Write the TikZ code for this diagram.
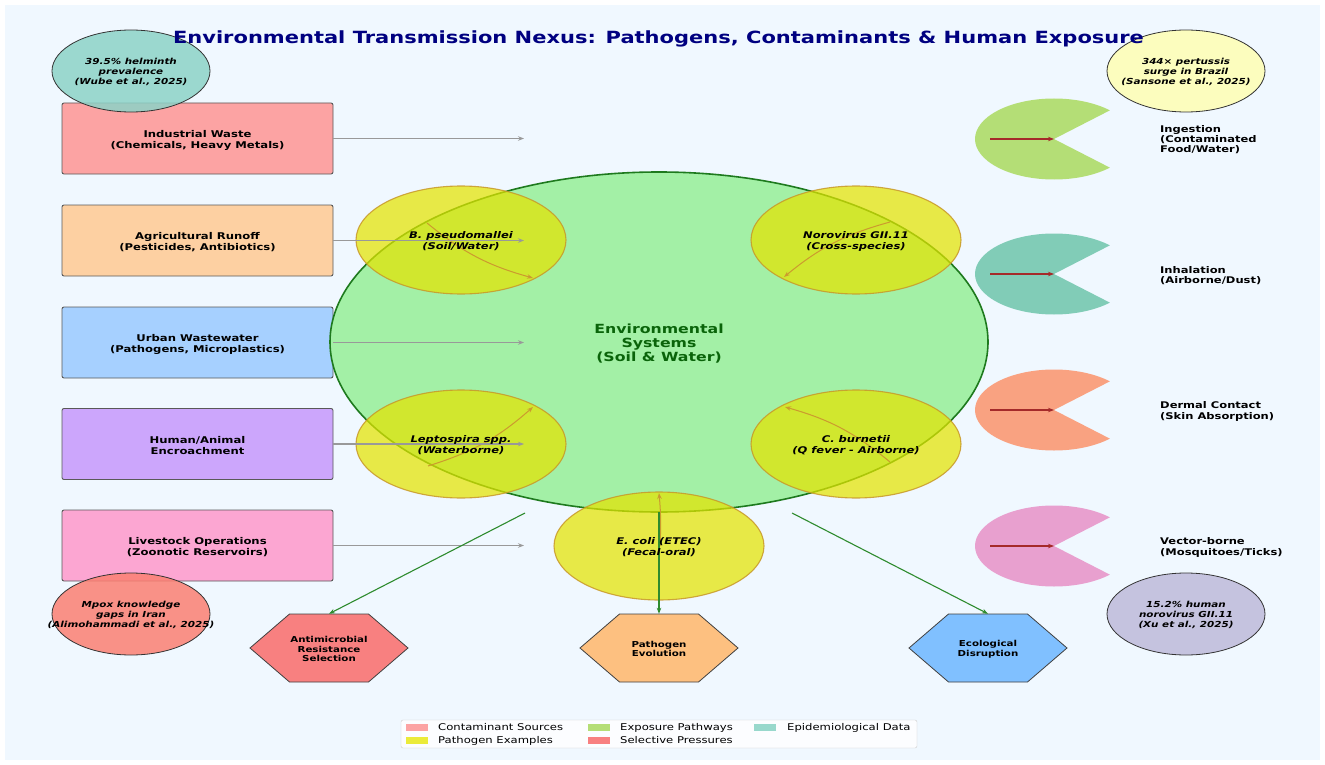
\documentclass[tikz,border=0pt]{standalone}
\usepackage{fontspec}
\setmainfont{DejaVu Sans}[FakeStretch=1.25]
\usetikzlibrary{shapes.geometric,arrows.meta}
\definecolor{bgc}{HTML}{F0F8FF}
\definecolor{cA}{HTML}{FCA3A3}
\definecolor{cB}{HTML}{FDD0A2}
\definecolor{cC}{HTML}{A6D0FF}
\definecolor{cD}{HTML}{CCA6FC}
\definecolor{cE}{HTML}{FCA6D2}
\definecolor{envfill}{HTML}{A3F0A6}
\definecolor{envedge}{HTML}{1E7A1E}
\definecolor{envtext}{HTML}{0A640A}
\definecolor{ybase}{HTML}{E4E400}
\definecolor{gedge}{HTML}{C8982A}
\definecolor{curvc}{HTML}{CC9A2E}
\definecolor{pA}{HTML}{A6D854}
\definecolor{pB}{HTML}{66C2A5}
\definecolor{pC}{HTML}{FC8D62}
\definecolor{pD}{HTML}{E78AC3}
\definecolor{eA}{HTML}{8DD3C7}
\definecolor{eB}{HTML}{FFFFB3}
\definecolor{eC}{HTML}{FB8072}
\definecolor{eD}{HTML}{BEBADA}
\definecolor{hA}{HTML}{F88080}
\definecolor{hB}{HTML}{FDC080}
\definecolor{hC}{HTML}{80C0FF}
\definecolor{garr}{HTML}{2E8B2E}
\definecolor{rarr}{HTML}{A52A2A}
\definecolor{navyc}{HTML}{000080}
\definecolor{lgA}{HTML}{FCA3A3}
\definecolor{lgB}{HTML}{B5DE76}
\definecolor{lgC}{HTML}{98D8CC}
\definecolor{lgD}{HTML}{EBEB3A}
\definecolor{lgE}{HTML}{F88080}
\newcommand{\fsz}[2]{\fontsize{#1}{#2}\selectfont}
\newcommand{\hexpath}[2]{\filldraw[fill=#2, draw=black!75, line width=0.8pt] ([shift={(-79,0)}]#1) -- ([shift={(-39.5,-34)}]#1) -- ([shift={(39.5,-34)}]#1) -- ([shift={(79,0)}]#1) -- ([shift={(39.5,34)}]#1) -- ([shift={(-39.5,34)}]#1) -- cycle;}
\newcommand{\pacman}[2]{\fill[#2, fill opacity=0.8] (#1) -- ++(45:79 and 40.5) arc[start angle=45, end angle=315, x radius=79, y radius=40.5] -- cycle;}
\begin{document}
\begin{tikzpicture}[x=1pt,y=-1pt,
  srcbox/.style={draw=black!65, line width=0.9pt, rounded corners=2pt, minimum width=271pt, minimum height=71pt, align=center, font=\bfseries\fsz{9.3}{11}, inner sep=0pt},
  patho/.style={ellipse, draw=gedge, draw opacity=0.85, line width=1.1pt, fill=ybase, fill opacity=0.72, minimum width=210pt, minimum height=108pt, inner sep=0pt},
  pathtext/.style={inner sep=0pt, align=center, font=\bfseries\itshape\fsz{9.2}{11}, yshift=-1.5pt},
  epi/.style={ellipse, draw=black!80, line width=0.8pt, fill opacity=0.85, minimum width=158pt, minimum height=82pt, inner sep=0pt},
  epitext/.style={inner sep=0pt, align=center, font=\bfseries\itshape\fsz{8.3}{9.8}, yshift=-1pt},
  hexlbl/.style={minimum width=158pt, minimum height=68pt, inner sep=0pt, align=center, font=\bfseries\fsz{8.2}{9.6}},
  pwlbl/.style={anchor=west, align=left, inner sep=0pt, font=\bfseries\fsz{9.2}{10.3}, yshift=-1.5pt},
  grayarr/.style={draw=black!40, line width=1.1pt, -{Stealth[length=6pt,width=4.5pt]}},
  curvarr/.style={draw=curvc, line width=1pt, -{Stealth[length=6pt,width=4.5pt,open]}},
  greenarr/.style={draw=garr, line width=1.1pt, -{Stealth[length=6pt,width=4.5pt]}},
  redarr/.style={draw=rarr, line width=1.1pt, -{Stealth[length=6pt,width=4.5pt]}},
  lgpatch/.style={minimum width=22pt, minimum height=7pt, inner sep=0pt},
  lgtext/.style={anchor=west, inner sep=0pt, font=\fsz{9.3}{11}}
]
\useasboundingbox (0,0) rectangle (1325,765);
\fill[white] (0,0) rectangle (1325,765);
\fill[bgc] (5,5) rectangle (1320,760);

% contaminant sources
\node[srcbox, fill=cA] (b1) at (197.5,138.5) {};
\node[srcbox, fill=cB] (b2) at (197.5,240.5) {};
\node[srcbox, fill=cC] (b3) at (197.5,342.5) {};
\node[srcbox, fill=cD] (b4) at (197.5,444) {};
\node[srcbox, fill=cE] (b5) at (197.5,545.5) {};
\begin{scope}[every node/.style={inner sep=0pt, align=center, font=\bfseries\fsz{9.3}{11}, yshift=-1.5pt}]
\node (b1t) at (b1.center) {Industrial Waste\\(Chemicals, Heavy Metals)};
\node (b2t) at (b2.center) {Agricultural Runoff\\(Pesticides, Antibiotics)};
\node (b3t) at (b3.center) {Urban Wastewater\\(Pathogens, Microplastics)};
\node (b4t) at (b4.center) {Human/Animal\\Encroachment};
\node (b5t) at (b5.center) {Livestock Operations\\(Zoonotic Reservoirs)};
\end{scope}

% central environment
\node[ellipse, draw=envedge, line width=1.6pt, fill=envfill, minimum width=658pt, minimum height=340pt, inner sep=0pt] (env) at (659,342) {};
\node[inner sep=0pt, align=center, text=envtext, font=\bfseries\fsz{12.6}{14}, yshift=-1.5pt] (envt) at (env.center) {Environmental\\Systems\\(Soil \& Water)};

% pathogen ellipses
\node[patho] (pa) at (461,240) {};
\node[patho] (pb) at (856,240) {};
\node[patho] (pc) at (461,444) {};
\node[patho] (pd) at (856,444) {};
\node[patho] (pe) at (659,546) {};

% curved arrows within pathogen ellipses
\coordinate (ca1) at (427,223); \coordinate (ca2) at (533,278);
\coordinate (cb1) at (890,222); \coordinate (cb2) at (784,277);
\coordinate (cc1) at (428,466); \coordinate (cc2) at (533,407);
\coordinate (cd1) at (890,462); \coordinate (cd2) at (785,407);
\coordinate (ce1) at (660,546); \coordinate (ce2) at (659,493);
\draw[curvarr] (ca1) to[bend right=12] (ca2);
\draw[curvarr] (cb1) to[bend right=12] (cb2);
\draw[curvarr] (cc1) to[bend right=12] (cc2);
\draw[curvarr] (cd1) to[bend right=12] (cd2);
\draw[curvarr] (ce1) to[bend right=4] (ce2);

% gray arrows from sources
\coordinate (t1) at (524,138.5);
\coordinate (t2) at (524,240.5);
\coordinate (t3) at (524,342.5);
\coordinate (t4) at (524,444);
\coordinate (t5) at (524,545.5);
\draw[grayarr] (b1.east) -- (t1);
\draw[grayarr] (b2.east) -- (t2);
\draw[grayarr] (b3.east) -- (t3);
\draw[grayarr] (b4.east) -- (t4);
\draw[grayarr] (b5.east) -- (t5);

% selective pressures (hexagons)
\coordinate (hc1) at (329,648);
\coordinate (hc2) at (659,648);
\coordinate (hc3) at (988,648);
\hexpath{hc1}{hA}
\hexpath{hc2}{hB}
\hexpath{hc3}{hC}
\node[hexlbl] (h1) at (hc1) {};
\node[hexlbl] (h2) at (hc2) {};
\node[hexlbl] (h3) at (hc3) {};
\begin{scope}[every node/.style={inner sep=0pt, align=center, font=\bfseries\fsz{8.2}{9.6}, yshift=-1pt}]
\node (h1t) at (h1.center) {Antimicrobial\\Resistance\\Selection};
\node (h2t) at (h2.center) {Pathogen\\Evolution};
\node (h3t) at (h3.center) {Ecological\\Disruption};
\end{scope}

% green arrows
\coordinate (g1) at (525,513);
\coordinate (g2) at (659,512);
\coordinate (g3) at (792,513);
\draw[greenarr] (g1) -- (h1.north);
\draw[greenarr] (g2) -- (h2.north);
\draw[greenarr] (g3) -- (h3.north);

% pathogen texts
\node[pathtext] (pat) at (pa.center) {B. pseudomallei\\(Soil/Water)};
\node[pathtext] (pbt) at (pb.center) {Norovirus GII.11\\(Cross-species)};
\node[pathtext] (pct) at (pc.center) {Leptospira spp.\\(Waterborne)};
\node[pathtext] (pdt) at (pd.center) {C. burnetii\\(Q fever - Airborne)};
\node[pathtext] (pet) at (pe.center) {E. coli (ETEC)\\(Fecal-oral)};

% exposure pathways
\coordinate (p1) at (1054,139);
\coordinate (p2) at (1054,274);
\coordinate (p3) at (1054,410);
\coordinate (p4) at (1054,546);
\pacman{p1}{pA}
\pacman{p2}{pB}
\pacman{p3}{pC}
\pacman{p4}{pD}
\coordinate (s1) at (990,139);
\coordinate (s2) at (990,274);
\coordinate (s3) at (990,410);
\coordinate (s4) at (990,546);
\draw[redarr] (s1) -- (p1);
\draw[redarr] (s2) -- (p2);
\draw[redarr] (s3) -- (p3);
\draw[redarr] (s4) -- (p4);
\node[pwlbl] (l1) at (1160,138) {Ingestion\\(Contaminated\\Food/Water)};
\node[pwlbl] (l2) at (1160,274) {Inhalation\\(Airborne/Dust)};
\node[pwlbl] (l3) at (1160,410) {Dermal Contact\\(Skin Absorption)};
\node[pwlbl] (l4) at (1160,546) {Vector-borne\\(Mosquitoes/Ticks)};

% epidemiological data
\node[epi, fill=eA] (e1) at (131,71) {};
\node[epi, fill=eB] (e2) at (1186,71) {};
\node[epi, fill=eC] (e3) at (131,614) {};
\node[epi, fill=eD] (e4) at (1186,614) {};
\node[epitext] (e1t) at (e1.center) {39.5\% helminth\\prevalence\\(Wube et al., 2025)};
\node[epitext] (e2t) at (e2.center) {344× pertussis\\surge in Brazil\\(Sansone et al., 2025)};
\node[epitext] (e3t) at (e3.center) {Mpox knowledge\\gaps in Iran\\(Alimohammadi et al., 2025)};
\node[epitext] (e4t) at (e4.center) {15.2\% human\\norovirus GII.11\\(Xu et al., 2025)};

% title
\node[font=\bfseries\fsz{16.8}{20}, text=navyc, inner sep=0pt, yshift=-1.5pt] (title) at (658.5,37) {Environmental Transmission Nexus: Pathogens, Contaminants \& Human Exposure};

% legend
\node[draw=black!20, fill=white, fill opacity=0.8, rounded corners=2pt, minimum width=516pt, minimum height=28pt, inner sep=0pt] (leg) at (659,734) {};
\node[lgpatch, fill=lgA] (lp1) at (416.5,727.5) {};
\node[lgpatch, fill=lgD] (lp2) at (416.5,740.5) {};
\node[lgpatch, fill=lgB] (lp3) at (598.5,727.5) {};
\node[lgpatch, fill=lgE] (lp4) at (598.5,740.5) {};
\node[lgpatch, fill=lgC] (lp5) at (764.5,727.5) {};
\node[lgtext] (lt1) at (438,727.5) {Contaminant Sources};
\node[lgtext] (lt2) at (438,740.5) {Pathogen Examples};
\node[lgtext] (lt3) at (620,727.5) {Exposure Pathways};
\node[lgtext] (lt4) at (620,740.5) {Selective Pressures};
\node[lgtext] (lt5) at (787,727.5) {Epidemiological Data};
\end{tikzpicture}
\end{document}
